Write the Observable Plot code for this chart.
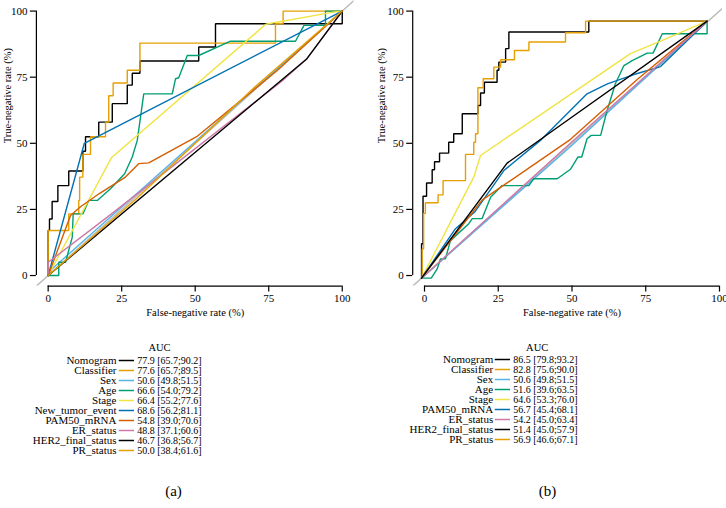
<!DOCTYPE html>
<html>
<head>
<meta charset="utf-8">
<script src="https://cdn.jsdelivr.net/npm/d3@7"></script>
<script src="https://cdn.jsdelivr.net/npm/@observablehq/plot@0.6"></script>
<style>
  body { margin: 0; background: #fff; }
  #chart { position: relative; width: 726px; height: 508px; overflow: hidden; background: #fff; }
  .cell { position: absolute; }
  #chart svg, #chart svg text, #chart svg g { font-family: "Liberation Serif", "DejaVu Serif", serif !important; }
</style>
</head>
<body>
<div id="chart"></div>
<script>
// ---------- axis ticks and labels ----------
const xTicks = [0, 25, 50, 75, 100];
const yTicks = [0, 25, 50, 75, 100];
const xLabel = "False-negative rate (%)";
const yLabel = "True-negative rate (%)";
const legendTitle = "AUC";

// ---------- panel (a) ----------
const namesA = ["Nomogram", "Classifier", "Sex", "Age", "Stage", "New_tumor_event", "PAM50_mRNA", "ER_status", "HER2_final_status", "PR_status"];
const aucA  = [77.9, 77.6, 50.6, 66.6, 66.4, 68.6, 54.8, 48.8, 46.7, 50.0];
const lowA  = [65.7, 65.7, 49.8, 54.0, 55.2, 56.2, 39.0, 37.1, 36.8, 38.4];
const highA = [90.2, 89.5, 51.5, 79.2, 77.6, 81.1, 70.6, 60.6, 56.7, 61.6];

const rocA_Nomogram = [[0,0],[0,17],[0.45,17],[0.45,21.4],[1.35,21.4],[1.35,28],[3.3,28],[3.3,34],[7,34],[7,39.5],[11.8,39.5],[11.8,47],[12.7,47],[12.7,52.5],[17.2,52.5],[17.2,58],[21.8,58],[21.8,65],[26.9,65],[26.9,72],[28.6,72],[28.6,76.5],[31.2,76.5],[31.2,81.1],[51.2,81.1],[51.2,86.4],[56.9,86.4],[56.9,95.2],[100,95.2],[100,100]];
const rocA_Classifier = [[0,0],[0,17],[7,17],[7,23.3],[10.4,23.3],[10.4,28.4],[10.7,28.4],[10.7,37.2],[11.8,37.2],[11.8,45.8],[14.4,45.8],[14.4,52.5],[19.5,52.5],[19.5,58],[20.6,58],[20.6,68],[22.1,68],[22.1,72.8],[26.9,72.8],[26.9,77.6],[31.2,77.6],[31.2,87.9],[77.3,87.9],[77.3,95.2],[79.9,95.2],[79.9,100],[100,100]];
const rocA_Sex = [[0,0],[1.2,2.4],[100,100]];
const rocA_Age = [[0,0],[3.6,0],[3.6,5],[5.9,5],[8.2,14.5],[8.5,23.3],[11.8,23.3],[13.8,28.4],[16.7,28.4],[21.2,32.8],[26,38.5],[28.6,44.8],[30.3,51.1],[32.5,68.7],[42.2,68.7],[43.3,74.4],[44.4,74.8],[47.3,83.2],[51.2,83.2],[62,88.6],[84.1,88.6],[87,94.6],[94.3,94.6],[94.3,100],[100,100]];
const rocA_Stage = [[0,0],[21.5,44.5],[74,95],[97,99.6],[100,100]];
const rocA_NewTumor = [[0,0],[12.3,50],[100,100]];
const rocA_PAM50 = [[0,0],[7.6,22.7],[11,26],[17.4,31],[26,37],[30.8,42.3],[34.2,42.6],[50.5,52.5],[78,77.6],[100,100]];
const rocA_ER = [[0,0],[0,5],[20,22],[50,48],[80,74],[88,82],[100,100]];
const rocA_HER2 = [[0,0],[88,82],[100,100]];
const rocA_PR = [[0,0],[30,29],[70,71],[100,100]];
const rocA = [rocA_Nomogram, rocA_Classifier, rocA_Sex, rocA_Age, rocA_Stage, rocA_NewTumor, rocA_PAM50, rocA_ER, rocA_HER2, rocA_PR];

// ---------- panel (b) ----------
const namesB = ["Nomogram", "Classifier", "Sex", "Age", "Stage", "PAM50_mRNA", "ER_status", "HER2_final_status", "PR_status"];
const aucB  = [86.5, 82.8, 50.6, 51.6, 64.6, 56.7, 54.2, 51.4, 56.9];
const lowB  = [79.8, 75.6, 49.8, 39.6, 53.3, 45.4, 45.0, 45.0, 46.6];
const highB = [93.2, 90.0, 51.5, 63.5, 76.0, 68.1, 63.4, 57.9, 67.1];

const rocB_Nomogram = [[-1,-1],[-1,12],[-0.5,12],[-0.5,30],[0.7,30],[0.7,35],[2.6,35],[2.6,40],[3.4,40],[3.4,43],[5.1,43],[5.1,46.3],[8.2,46.3],[8.2,50.4],[9.9,50.4],[9.9,53.6],[12.8,53.6],[12.8,61.2],[18.1,61.2],[18.1,64.3],[19,64.3],[19,69],[20.3,69],[20.3,73.1],[24.6,73.1],[24.6,77.6],[25.2,77.6],[25.2,80.7],[27.5,80.7],[27.5,85.8],[28.6,85.8],[28.6,92.1],[55.7,92.1],[55.7,96.2],[95.8,96.2]];
const rocB_Classifier = [[-1,-1],[-0.8,-1],[-0.8,10],[-0.3,10],[-0.3,23.5],[0.3,23.5],[0.3,27.5],[4.6,27.5],[4.6,30.5],[6.3,30.5],[6.3,35.9],[13.9,35.9],[13.9,45.8],[16.7,45.8],[16.7,50.4],[17.3,50.4],[17.3,53.6],[18.1,53.6],[18.1,71],[19.9,71],[19.9,74.4],[23.5,74.4],[23.5,78.8],[25.8,78.8],[25.8,81.6],[30.5,81.6],[30.5,85.1],[35.4,85.1],[35.4,88.3],[47.8,88.3],[47.8,91.8],[54.6,91.8],[54.6,96.2],[95.8,96.2]];
const rocB_Sex = [[-1,-1],[50,49.3],[95.8,96.2]];
const rocB_Age = [[-1,-1],[2.3,-1],[4.3,2.5],[5.4,6.3],[7.1,6.3],[8.8,13.2],[15,19.6],[16.2,21.5],[19.5,21.5],[22.4,29.6],[26.3,34],[35.4,34],[37,36.6],[45,36.6],[49.5,40.2],[50.5,42],[52,44.8],[53.3,44.8],[55.1,51.7],[56.5,53],[59.7,53],[61.9,62.4],[64.7,72.5],[67.6,79.4],[70.4,81.3],[75.5,84.1],[77.5,84.1],[80.6,91.4],[95.8,91.4],[95.8,96.2]];
const rocB_Stage = [[-1,-1],[16.7,37.2],[19,45.4],[69.8,83.9],[80.6,88.9],[95.8,96.2]];
const rocB_PAM50 = [[-1,-1],[10.5,17.7],[17,24],[26.9,39.7],[39.3,51.1],[55.1,68.7],[62,72.5],[71,76],[80,79],[95.8,96.2]];
const rocB_ER = [[-1,-1],[8,12],[19.5,28.5],[49.5,51.5],[72,74],[95.8,96.2]];
const rocB_HER2 = [[-1,-1],[50,50.6],[95.8,96.2]];
const rocB_PR = [[-1,-1],[28,42.5],[95.8,96.2]];
const rocB = [rocB_Nomogram, rocB_Classifier, rocB_Sex, rocB_Age, rocB_Stage, rocB_PAM50, rocB_ER, rocB_HER2, rocB_PR];

// ---------- colours ----------
const OI = {black:"#000000", orange:"#E69F00", sky:"#56B4E9", green:"#009E73", yellow:"#F0E442", blue:"#0072B2", red:"#D55E00", pink:"#CC79A7"};
const lineColorsA   = [OI.black, OI.orange, OI.sky, OI.green, OI.yellow, OI.blue, OI.red, OI.pink, OI.black, OI.orange];
const legendColorsA = lineColorsA;
const lineColorsB   = [OI.black, OI.orange, OI.sky, OI.green, OI.yellow, OI.blue, OI.red, OI.pink, OI.black];
const legendColorsB = [OI.black, OI.orange, OI.sky, OI.green, OI.yellow, OI.blue, OI.pink, OI.black, OI.orange];

// ---------- helpers ----------
const usr = [-4, 104]; // plot region extends 4% beyond data range
const FONT = "'Liberation Serif', 'DejaVu Serif', serif";

function toRows(names, rocs) {
  return names.flatMap((n, i) => rocs[i].map(([x, y]) => ({series: n, x, y})));
}

function rocPanel({names, rocs, colors, xRange, marginLeft, marginRight, yLabelDx}) {
  const rows = toRows(names, rocs);
  return Plot.plot({
    width: 363, height: 330,
    marginLeft, marginRight, marginTop: 0, marginBottom: 330 - 285.6,
    x: {domain: usr, range: xRange},
    y: {domain: usr, range: [285.6, 0]},
    color: {domain: names, range: colors},
    style: {fontFamily: FONT, fontSize: "11px", background: "transparent", color: "#000"},
    marks: [
      Plot.line(usr.map(v => ({v})), {x: "v", y: "v", stroke: "#bdbdbd", strokeWidth: 1.5, clip: true}),
      Plot.line(rows, {x: "x", y: "y", z: "series", stroke: "series", strokeWidth: 1.4, strokeLinejoin: "miter"}),
      Plot.ruleY([usr[0]], {x1: xTicks[0], x2: xTicks[xTicks.length - 1], stroke: "#000", strokeWidth: 1.2}),
      Plot.ruleX([usr[0]], {y1: yTicks[0], y2: yTicks[yTicks.length - 1], stroke: "#000", strokeWidth: 1.2}),
      Plot.axisX(xTicks, {anchor: "bottom", tickSize: 6, tickPadding: 2, label: null, stroke: "#000", strokeWidth: 1.2, fontSize: 11}),
      Plot.axisY(yTicks, {anchor: "left", tickSize: 6, tickPadding: 3, label: null, stroke: "#000", strokeWidth: 1.2, fontSize: 11}),
      Plot.text([xLabel], {x: 50, frameAnchor: "bottom", dy: 29.4, fontSize: 10.5}),
      Plot.text([yLabel], {frameAnchor: "left", dx: yLabelDx, rotate: -90, fontSize: 10.5})
    ]
  });
}

function legendPanel({names, auc, low, high, colors, tag, hdrX, nameEnd, sw1, sw2, valStart, tagX}) {
  const leg = names.map((n, i) => ({name: n, color: colors[i], txt: `${auc[i].toFixed(1)} [${low[i].toFixed(1)};${high[i].toFixed(1)}]`}));
  const step = 11.35;
  return Plot.plot({
    width: 363, height: 170, margin: 0,
    x: {type: "identity"},
    y: {type: "point", domain: names, range: [24, 24 + (names.length - 1) * step], axis: null},
    color: {type: "identity"},
    style: {fontFamily: FONT, fontSize: "10.5px", background: "transparent", color: "#000"},
    marks: [
      Plot.text([legendTitle], {x: hdrX, frameAnchor: "top", dy: 13, fontSize: 10.5}),
      Plot.text(leg, {x: nameEnd, y: "name", text: "name", textAnchor: "end", fontSize: 11}),
      Plot.ruleY(leg, {y: "name", x1: sw1, x2: sw2, stroke: "color", strokeWidth: 1.5}),
      Plot.text(leg, {x: valStart, y: "name", text: "txt", textAnchor: "start", fontSize: 10}),
      Plot.text([tag], {x: tagX, frameAnchor: "top", dy: 155, fontSize: 15})
    ]
  });
}

function place(node, left, top) {
  const d = document.createElement("div");
  d.className = "cell";
  d.style.left = left + "px";
  d.style.top = top + "px";
  d.appendChild(node);
  document.getElementById("chart").appendChild(d);
}

place(rocPanel({names: namesA, rocs: rocA, colors: lineColorsA, xRange: [35.9, 353.5], marginLeft: 35.9, marginRight: 9.5, yLabelDx: -29}), 0, 0);
place(rocPanel({names: namesB, rocs: rocB, colors: lineColorsB, xRange: [49.2, 367.8], marginLeft: 49.2, marginRight: 4, yLabelDx: -31}), 363, 0);
place(legendPanel({names: namesA, auc: aucA, low: lowA, high: highA, colors: legendColorsA, tag: "(a)", hdrX: 159, nameEnd: 116, sw1: 118.7, sw2: 134, valStart: 136.7, tagX: 173}), 0, 330);
place(legendPanel({names: namesB, auc: aucB, low: lowB, high: highB, colors: legendColorsB, tag: "(b)", hdrX: 173.7, nameEnd: 129.7, sw1: 131.7, sw2: 147, valStart: 149.7, tagX: 184}), 363, 330);
</script>
</body>
</html>
